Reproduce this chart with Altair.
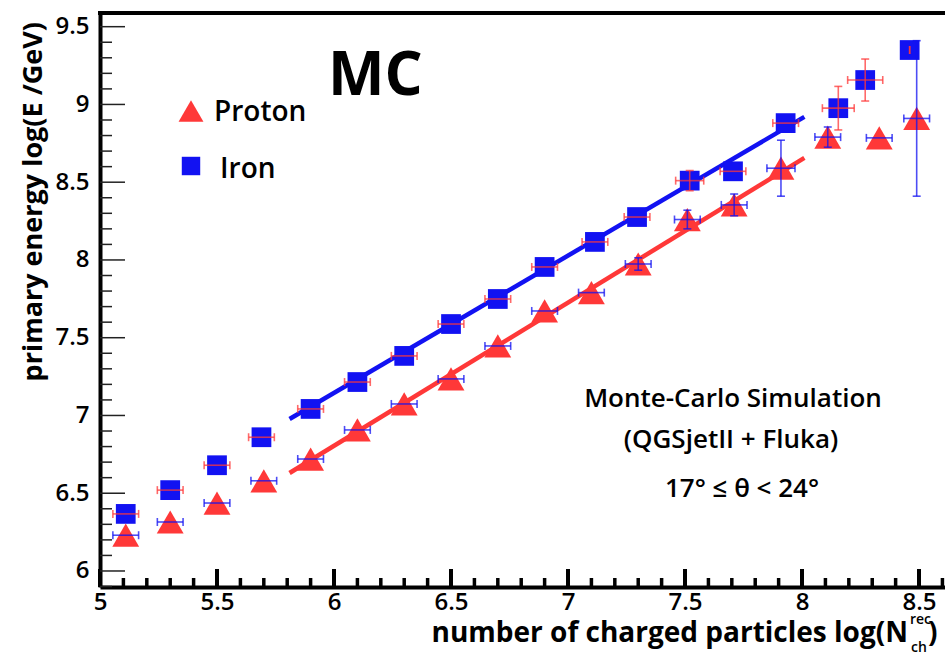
import altair as alt
import pandas as pd

# ---------------- data ----------------
proton_x = [5.11, 5.30, 5.50, 5.70, 5.90, 6.10, 6.30, 6.50, 6.70, 6.90, 7.10, 7.30, 7.51, 7.71, 7.91, 8.11, 8.33, 8.49]
proton_y = [6.23, 6.315, 6.437, 6.58, 6.72, 6.907, 7.074, 7.235, 7.447, 7.672, 7.79, 7.974, 8.26, 8.354, 8.59, 8.79, 8.785, 8.91]
proton_xerr = [0.055, 0.055, 0.055, 0.055, 0.055, 0.055, 0.055, 0.055, 0.055, 0.055, 0.055, 0.055, 0.055, 0.055, 0.06, 0.055, 0.055, 0.055]
proton_yerr = [0.02, 0.02, 0.02, 0.02, 0.02, 0.02, 0.02, 0.02, 0.02, 0.02, 0.02, 0.04, 0.06, 0.07, 0.18, 0.065, 0.02, 0.5]

iron_x = [5.11, 5.30, 5.50, 5.69, 5.90, 6.10, 6.30, 6.50, 6.70, 6.90, 7.115, 7.295, 7.52, 7.705, 7.93, 8.155, 8.27, 8.46]
iron_y = [6.367, 6.52, 6.68, 6.86, 7.042, 7.215, 7.383, 7.588, 7.749, 7.955, 8.116, 8.276, 8.51, 8.57, 8.88, 8.976, 9.157, 9.35]
iron_xerr = [0.055, 0.055, 0.055, 0.055, 0.055, 0.055, 0.055, 0.055, 0.055, 0.055, 0.055, 0.055, 0.06, 0.055, 0.055, 0.068, 0.075, 0.0]
iron_yerr = [0.02, 0.02, 0.02, 0.02, 0.02, 0.02, 0.02, 0.02, 0.02, 0.02, 0.02, 0.02, 0.065, 0.02, 0.02, 0.14, 0.135, 0.0]

fit_x = [5.81, 8.01]
proton_fit_y = [6.63, 8.656]
iron_fit_y = [6.977, 8.92]

x_major = [5.0, 5.5, 6.0, 6.5, 7.0, 7.5, 8.0, 8.5]
x_minor = [5.1, 5.2, 5.3, 5.4, 5.6, 5.7, 5.8, 5.9, 6.1, 6.2, 6.3, 6.4, 6.6, 6.7, 6.8, 6.9,
           7.1, 7.2, 7.3, 7.4, 7.6, 7.7, 7.8, 7.9, 8.1, 8.2, 8.3, 8.4, 8.6]
y_major = [6.0, 6.5, 7.0, 7.5, 8.0, 8.5, 9.0, 9.5]
y_minor = [5.9, 6.1, 6.2, 6.3, 6.4, 6.6, 6.7, 6.8, 6.9, 7.1, 7.2, 7.3, 7.4, 7.6, 7.7, 7.8, 7.9,
           8.1, 8.2, 8.3, 8.4, 8.6, 8.7, 8.8, 8.9, 9.1, 9.2, 9.3, 9.4]

series_names = ["Proton", "Iron"]
x_title = "number of charged particles log(N"
x_title_sup = "rec"
x_title_sub = "ch"
y_title = "primary energy log(E /GeV)"
big_label = "MC"
notes = ["Monte-Carlo Simulation", "(QGSjetII + Fluka)", "17° ≤ θ < 24°"]

# ---------------- style ----------------
FONT = "Open Sans"
RED = "#FF3838"
BLUE = "#1212F2"
W, H = 845, 574
L, T = 100, 13  # plot origin in page pixels

xscale = alt.Scale(domain=[5.0, 8.611], nice=False, zero=False)
yscale = alt.Scale(domain=[5.897, 9.588], nice=False, zero=False)

xaxis = alt.Axis(values=x_major, format=".1~f", ticks=False, grid=False,
                 domainColor="black", domainWidth=4, labelFont=FONT, labelFontSize=24,
                 labelFontWeight=600, labelColor="black", labelPadding=3,
                 labelFlush=False, labelOverlap=False, title="")
yaxis = alt.Axis(values=y_major, format=".1~f", ticks=False, grid=False,
                 domainColor="black", domainWidth=4, labelFont=FONT, labelFontSize=24,
                 labelFontWeight=600, labelColor="black", labelPadding=11,
                 labelFlush=False, labelOverlap=False, title="")


def X(f):
    return alt.X(f, type="quantitative", scale=xscale, axis=xaxis, title="")


def Y(f):
    return alt.Y(f, type="quantitative", scale=yscale, axis=yaxis, title="")


proton = pd.DataFrame({"x": proton_x, "y": proton_y,
                       "xlo": [a - b for a, b in zip(proton_x, proton_xerr)],
                       "xhi": [a + b for a, b in zip(proton_x, proton_xerr)],
                       "ylo": [a - b for a, b in zip(proton_y, proton_yerr)],
                       "yhi": [a + b for a, b in zip(proton_y, proton_yerr)]})
iron = pd.DataFrame({"x": iron_x, "y": iron_y,
                     "xlo": [a - b for a, b in zip(iron_x, iron_xerr)],
                     "xhi": [a + b for a, b in zip(iron_x, iron_xerr)],
                     "ylo": [a - b for a, b in zip(iron_y, iron_yerr)],
                     "yhi": [a + b for a, b in zip(iron_y, iron_yerr)]})
pfit = pd.DataFrame({"x": fit_x, "y": proton_fit_y})
ifit = pd.DataFrame({"x": fit_x, "y": iron_fit_y})

layers = []

# frame ticks (inward, ROOT style)
layers.append(alt.Chart(pd.DataFrame({"v": x_major})).mark_rule(color="black", strokeWidth=4)
              .encode(x=X("v"), y=alt.value(H), y2=alt.value(H - 18)))
layers.append(alt.Chart(pd.DataFrame({"v": x_minor})).mark_rule(color="black", strokeWidth=3.5)
              .encode(x=X("v"), y=alt.value(H), y2=alt.value(H - 9)))
layers.append(alt.Chart(pd.DataFrame({"v": y_major})).mark_rule(color="#222222", strokeWidth=1.5)
              .encode(y=Y("v"), x=alt.value(0), x2=alt.value(25)))
layers.append(alt.Chart(pd.DataFrame({"v": y_minor})).mark_rule(color="#222222", strokeWidth=1.5)
              .encode(y=Y("v"), x=alt.value(0), x2=alt.value(12)))
# top frame line
layers.append(alt.Chart(pd.DataFrame({"v": [0]})).mark_rule(color="black", strokeWidth=4)
              .encode(x=alt.value(-2), x2=alt.value(W), y=alt.value(0)))

# fit lines
layers.append(alt.Chart(ifit).mark_line(color=BLUE, strokeWidth=4.5).encode(x=X("x"), y=Y("y")))
layers.append(alt.Chart(pfit).mark_line(color=RED, strokeWidth=4.5).encode(x=X("x"), y=Y("y")))

# markers
layers.append(alt.Chart(iron).mark_point(shape="square", filled=True, size=390, color=BLUE, opacity=1)
              .encode(x=X("x"), y=Y("y")))
layers.append(alt.Chart(proton).mark_point(shape="triangle-up", filled=True, size=720, color=RED, opacity=1)
              .encode(x=X("x"), y=Y("y")))

# error bars (iron in red, proton in blue, as in the reference)
for df, col in ((iron, RED), (proton, BLUE)):
    layers.append(alt.Chart(df).mark_errorbar(ticks=True, size=8, thickness=1.6, color=col, opacity=0.75)
                  .encode(x=X("xlo"), x2=alt.X2("xhi"), y=Y("y")))
    layers.append(alt.Chart(df[df["yhi"] - df["ylo"] > 0.05]).mark_errorbar(ticks=True, size=8, thickness=1.6,
                                                                             color=col, opacity=0.75)
                  .encode(y=Y("ylo"), y2=alt.Y2("yhi"), x=X("x")))


def txt(s, px, py, size, weight="bold", align="left", baseline="alphabetic", angle=0):
    return (alt.Chart(pd.DataFrame({"t": [s]}))
            .mark_text(font=FONT, fontSize=size, fontWeight=weight, align=align,
                       baseline=baseline, angle=angle, color="black")
            .encode(text="t:N", x=alt.value(px - L), y=alt.value(py - T)))


# legend
layers.append(alt.Chart(pd.DataFrame({"s": [series_names[0]]}))
              .mark_point(shape="triangle-up", filled=True, size=620, color=RED, opacity=1)
              .encode(x=alt.value(191 - L), y=alt.value(111 - T)))
layers.append(alt.Chart(pd.DataFrame({"s": [series_names[1]]}))
              .mark_point(shape="square", filled=True, size=340, color=BLUE, opacity=1)
              .encode(x=alt.value(191 - L), y=alt.value(166 - T)))
layers.append(txt(series_names[0], 214, 121, 28, weight=600))
layers.append(txt(series_names[1], 220, 178, 28, weight=600))

# big "MC"
layers.append(txt(big_label, 328, 95, 60, weight="bold"))

# annotations
layers.append(txt(notes[0], 733, 407, 26, weight=600, align="center"))
layers.append(txt(notes[1], 731, 448, 26, weight=600, align="center"))
layers.append(txt(notes[2], 742, 497, 26, weight=600, align="center"))

# axis titles
layers.append(txt(x_title, 908, 642, 28, weight="bold", align="right"))
layers.append(txt(x_title_sup, 910, 624, 14, weight=600))
layers.append(txt(x_title_sub, 911, 652, 14, weight=600))
layers.append(txt(")", 928, 642, 28, weight="bold"))
layers.append(txt(y_title, 42, 22, 27, weight="bold", align="right", angle=270))

chart = (alt.layer(*layers)
         .properties(width=W, height=H,
                     autosize=alt.AutoSizeParams(type="none"),
                     padding={"left": L, "top": T, "right": 0, "bottom": 655 - T - H})
         .configure_view(stroke=None)
         .configure(background="white"))

chart.save("out.html", embed_options={"renderer": "svg", "actions": False})
